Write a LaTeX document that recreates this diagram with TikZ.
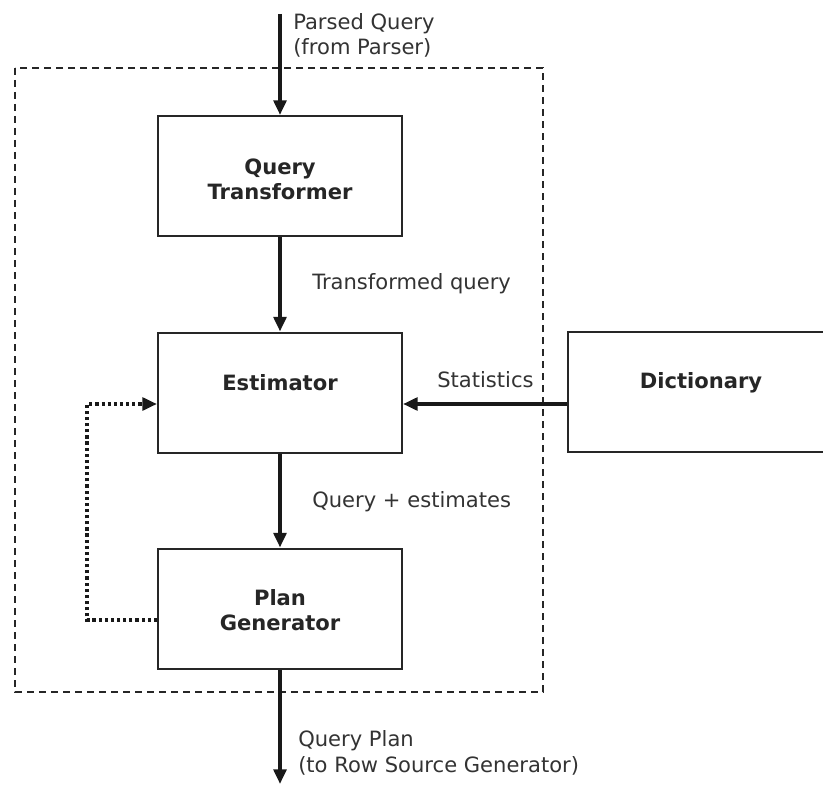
\documentclass[tikz,border=0pt]{standalone}
\usepackage{fontspec}
\setmainfont{DejaVu Sans}
\usetikzlibrary{arrows.meta}
\begin{document}
\begin{tikzpicture}[x=0.75pt,y=-0.75pt,
  font=\fontsize{15.8}{18.8}\selectfont,
  stagebox/.style={draw=black!85,line width=1.5pt,minimum width=183pt,minimum height=90pt,inner sep=0pt},
  stagetext/.style={font=\fontsize{15.8}{18.8}\selectfont\bfseries,text=black!85,align=center,inner sep=0pt},
  flowtext/.style={text=black!80,align=left,inner sep=0pt,anchor=base west},
  flow/.style={draw=black!90,line width=3pt,-{Triangle[length=11pt,width=9.5pt]}},
  loopback/.style={draw=black!90,line width=3pt,dash pattern=on 2.4pt off 2.2pt,-{Triangle[length=11pt,width=9.5pt]}},
  optimizer/.style={draw=black!85,line width=1.6pt,dash pattern=on 5.5pt off 3.5pt}]
  \clip (0,0) rectangle (823,784);
  \fill[white] (0,0) rectangle (823,784);

  % optimizer boundary
  \draw[optimizer] (15,68) rectangle (543,692);

  % stages
  \node[stagebox] (qt) at (280,176) {};
  \node[stagetext] (qtlabel) at (280,179) {Query\\Transformer};
  \node[stagebox] (est) at (280,392.5) {};
  \node[stagetext] (estlabel) at (280,383) {Estimator};
  \node[stagebox] (pg) at (280,608.5) {};
  \node[stagetext] (pglabel) at (280,610) {Plan\\Generator};
  \node[stagebox,minimum width=200pt] (dict) at (701.5,392) {};
  \node[stagetext] (dictlabel) at (701,383) {Dictionary};

  % free ends
  \coordinate (in) at (280,14);
  \coordinate (out) at (280,784);

  % main flow
  \draw[flow] (in) -- (qt.north);
  \draw[flow] (qt.south) -- (est.north);
  \draw[flow] (est.south) -- (pg.north);
  \draw[flow] (pg.south) -- (out);
  \draw[flow] (dict.west |- 0,404) -- (est.east |- 0,404);
  \draw[loopback] (pg.west |- 0,620) -| (87,404) -- (est.west |- 0,404);

  % flow labels (anchored on the baseline of their last line)
  \node[flowtext] (parsed) at (293,55) {Parsed Query\\(from Parser)};
  \node[flowtext] (transformed) at (312,289) {Transformed query};
  \node[flowtext] (stats) at (437,387) {Statistics};
  \node[flowtext] (estimates) at (312,507) {Query + estimates};
  \node[flowtext] (plan) at (298,772) {Query Plan\\(to Row Source Generator)};
\end{tikzpicture}
\end{document}
